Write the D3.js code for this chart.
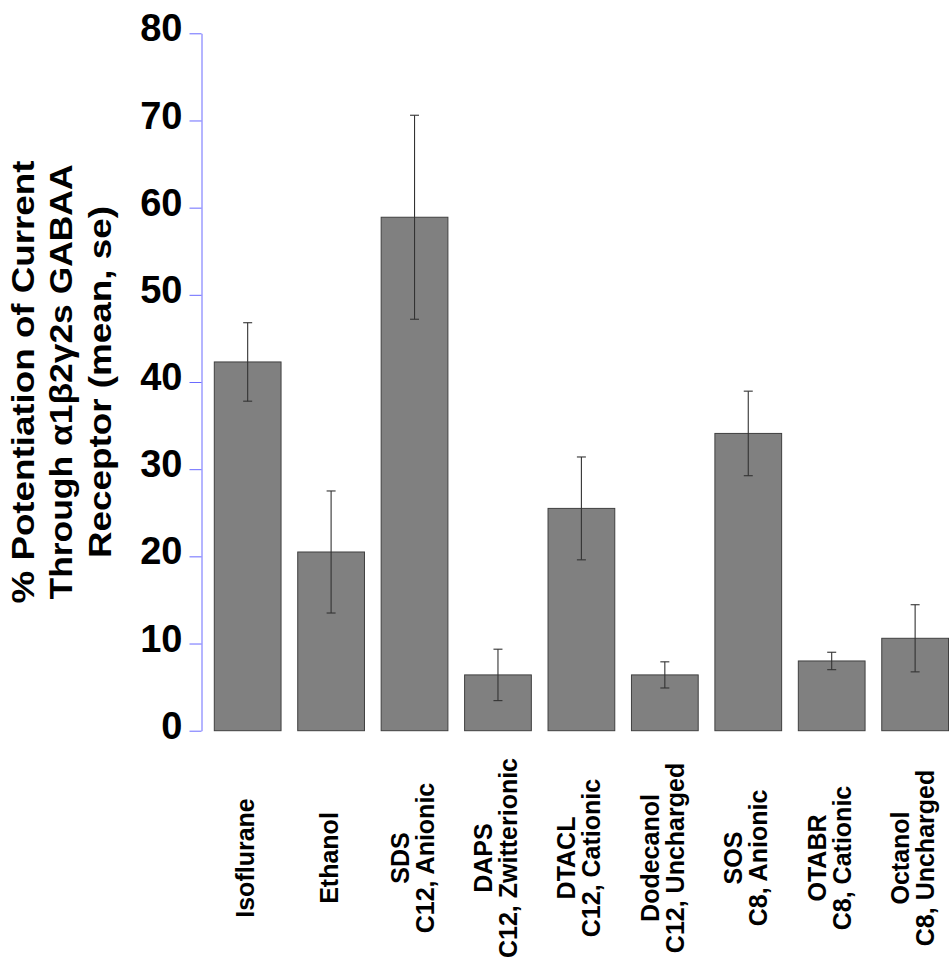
<!DOCTYPE html>
<html>
<head>
<meta charset="utf-8">
<script src="https://cdn.jsdelivr.net/npm/d3@7"></script>
<style>
  html, body { margin: 0; padding: 0; background: #fff; }
  svg { display: block; font-family: "Liberation Sans", Arial, Helvetica, sans-serif; }
</style>
</head>
<body>
<svg id="chart" width="952" height="975"></svg>
<script>
// ---- data ----
const categories = ["Isoflurane", "Ethanol", "SDS", "DAPS", "DTACL", "Dodecanol", "SOS", "OTABR", "Octanol"];
const subLabels = ["", "", "C12, Anionic", "C12, Zwitterionic", "C12, Cationic", "C12, Uncharged", "C8, Anionic", "C8, Cationic", "C8, Uncharged"];
const means = [42.3, 20.5, 58.9, 6.4, 25.5, 6.4, 34.1, 8.0, 10.6];
const errors = [4.5, 7.0, 11.7, 2.95, 5.9, 1.5, 4.85, 1.0, 3.85];
const yTicks = [0, 10, 20, 30, 40, 50, 60, 70, 80];
const titleLines = ["% Potentiation of Current", "Through \u03b11\u03b22\u03b32s GABAA", "Receptor (mean, se)"];

// ---- layout ----
const svg = d3.select("#chart");
const y = d3.scaleLinear().domain([0, 80]).range([730.7, 33.3]);
const x = d3.scaleBand().domain(categories).range([214.3, 948.5]).paddingInner(0.2).paddingOuter(0);

// y axis
const axisColor = "#6a6aff";
const yAxis = d3.axisLeft(y).tickValues(yTicks).tickSize(12).tickSizeOuter(0).tickPadding(7);
const gy = svg.append("g").attr("transform", "translate(201.5,0)").call(yAxis);
gy.select(".domain").attr("stroke", axisColor).attr("stroke-width", 1);
gy.selectAll(".tick line").attr("stroke", axisColor).attr("stroke-width", 1);
gy.selectAll(".tick text")
  .attr("fill", "#000")
  .attr("font-size", 38)
  .attr("font-weight", "bold")
  .attr("font-family", "Liberation Sans, Arial, sans-serif")
  .attr("dy", "0.2em");

// bars
svg.append("g").selectAll("rect")
  .data(categories)
  .join("rect")
  .attr("x", d => x(d))
  .attr("width", x.bandwidth())
  .attr("y", (d, i) => y(means[i]))
  .attr("height", (d, i) => y(0) - y(means[i]))
  .attr("fill", "#808080")
  .attr("stroke", "#404040")
  .attr("stroke-width", 1);

// error bars
const eg = svg.append("g").attr("stroke", "#333").attr("stroke-width", 1.1);
categories.forEach((c, i) => {
  const cx = x(c) + x.bandwidth() / 2;
  const hi = y(means[i] + errors[i]);
  const lo = y(means[i] - errors[i]);
  eg.append("line").attr("x1", cx).attr("x2", cx).attr("y1", hi).attr("y2", lo);
  eg.append("line").attr("x1", cx - 4.5).attr("x2", cx + 4.5).attr("y1", hi).attr("y2", hi);
  eg.append("line").attr("x1", cx - 4.5).attr("x2", cx + 4.5).attr("y1", lo).attr("y2", lo);
});

// x labels (rotated)
const labelCenterY = 858;
const lineGap = 25;
categories.forEach((c, i) => {
  const lines = subLabels[i] ? [c, subLabels[i]] : [c];
  const cx = x(c) + x.bandwidth() / 2;
  lines.forEach((t, j) => {
    const bx = cx + (j - (lines.length - 1) / 2) * lineGap + 6.5;
    svg.append("text")
      .attr("transform", `translate(${bx},${labelCenterY}) rotate(-90)`)
      .attr("text-anchor", "middle")
      .attr("font-size", 25)
      .attr("font-weight", "bold")
      .attr("fill", "#000")
      .text(t);
  });
});

// y title
const titleBaselines = [33.5, 72, 111];
const titleLengths = [443, 435, 352];
const titleCenter = (y(0) + y(80)) / 2;
titleLines.forEach((t, j) => {
  svg.append("text")
    .attr("transform", `translate(${titleBaselines[j]},${titleCenter}) rotate(-90)`)
    .attr("text-anchor", "middle")
    .attr("font-size", 31)
    .attr("font-weight", "bold")
    .attr("fill", "#000")
    .attr("textLength", titleLengths[j])
    .attr("lengthAdjust", "spacingAndGlyphs")
    .text(t);
});
</script>
</body>
</html>
